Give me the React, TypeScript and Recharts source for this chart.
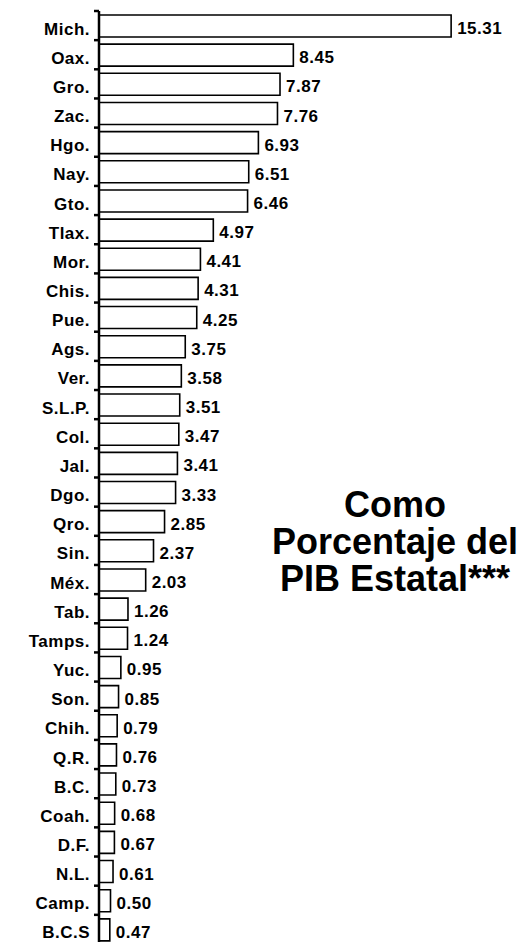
import { Bar, BarChart, LabelList, XAxis, YAxis } from 'recharts';

const estados = [
  'Mich.', 'Oax.', 'Gro.', 'Zac.', 'Hgo.', 'Nay.', 'Gto.', 'Tlax.', 'Mor.', 'Chis.', 'Pue.',
  'Ags.', 'Ver.', 'S.L.P.', 'Col.', 'Jal.', 'Dgo.', 'Qro.', 'Sin.', 'Méx.', 'Tab.', 'Tamps.',
  'Yuc.', 'Son.', 'Chih.', 'Q.R.', 'B.C.', 'Coah.', 'D.F.', 'N.L.', 'Camp.', 'B.C.S',
];

const porcentajePib = [
  15.31, 8.45, 7.87, 7.76, 6.93, 6.51, 6.46, 4.97, 4.41, 4.31, 4.25,
  3.75, 3.58, 3.51, 3.47, 3.41, 3.33, 2.85, 2.37, 2.03, 1.26, 1.24,
  0.95, 0.85, 0.79, 0.76, 0.73, 0.68, 0.67, 0.61, 0.50, 0.47,
];

const tituloLineas = ['Como', 'Porcentaje del', 'PIB Estatal***'];

const WIDTH = 525;
const HEIGHT = 946;
const MARGIN = { top: 11, right: 12, bottom: 2, left: 0 };
const AXIS_W = 99;
const BAND = (HEIGHT - MARGIN.top - MARGIN.bottom) / estados.length;
const FONT = '"Liberation Sans", Arial, sans-serif';

const rows = estados.map((estado, i) => ({ estado, valor: porcentajePib[i] }));

function EstadoTick(props: any) {
  const { x, y, payload } = props;
  return (
    <g>
      <line x1={AXIS_W - 5} x2={AXIS_W} y1={y - BAND / 2} y2={y - BAND / 2} stroke="#000" strokeWidth={2.5} />
      <text
        x={x - 1}
        y={y + 3}
        dy="0.355em"
        textAnchor="end"
        fontFamily={FONT}
        fontWeight="bold"
        fontSize={17}
        letterSpacing={0.5}
        fill="#000"
      >
        {payload.value}
      </text>
    </g>
  );
}

function ValorLabel(props: any) {
  const { x, y, width, height, value } = props;
  return (
    <text
      x={x + width + 6}
      y={y + height / 2 + 2}
      dy="0.355em"
      fontFamily={FONT}
      fontWeight="bold"
      fontSize={17}
      letterSpacing={0.5}
      fill="#000"
    >
      {Number(value).toFixed(2)}
    </text>
  );
}

export default function App() {
  return (
    <div style={{ position: 'absolute', left: 0, top: 0, width: WIDTH, height: 942, overflow: 'hidden', background: '#fff' }}>
      <BarChart width={WIDTH} height={HEIGHT} data={rows} layout="vertical" margin={MARGIN}>
        <XAxis type="number" domain={[0, 18]} hide />
        <YAxis
          type="category"
          dataKey="estado"
          width={AXIS_W}
          axisLine={{ stroke: '#000', strokeWidth: 2.5 }}
          tickLine={false}
          tick={<EstadoTick />}
          interval={0}
        />
        <Bar dataKey="valor" barSize={22} fill="#fff" stroke="#000" strokeWidth={1.6} isAnimationActive={false}>
          <LabelList dataKey="valor" content={<ValorLabel />} />
        </Bar>
      </BarChart>
      <svg width={WIDTH} height={942} style={{ position: 'absolute', left: 0, top: 0, pointerEvents: 'none' }}>
        {tituloLineas.map((linea, i) => (
          <text
            key={linea}
            x={395}
            y={517 + i * 37}
            textAnchor="middle"
            fontFamily={FONT}
            fontWeight="bold"
            fontSize={36}
            fill="#000"
          >
            {linea}
          </text>
        ))}
      </svg>
    </div>
  );
}
